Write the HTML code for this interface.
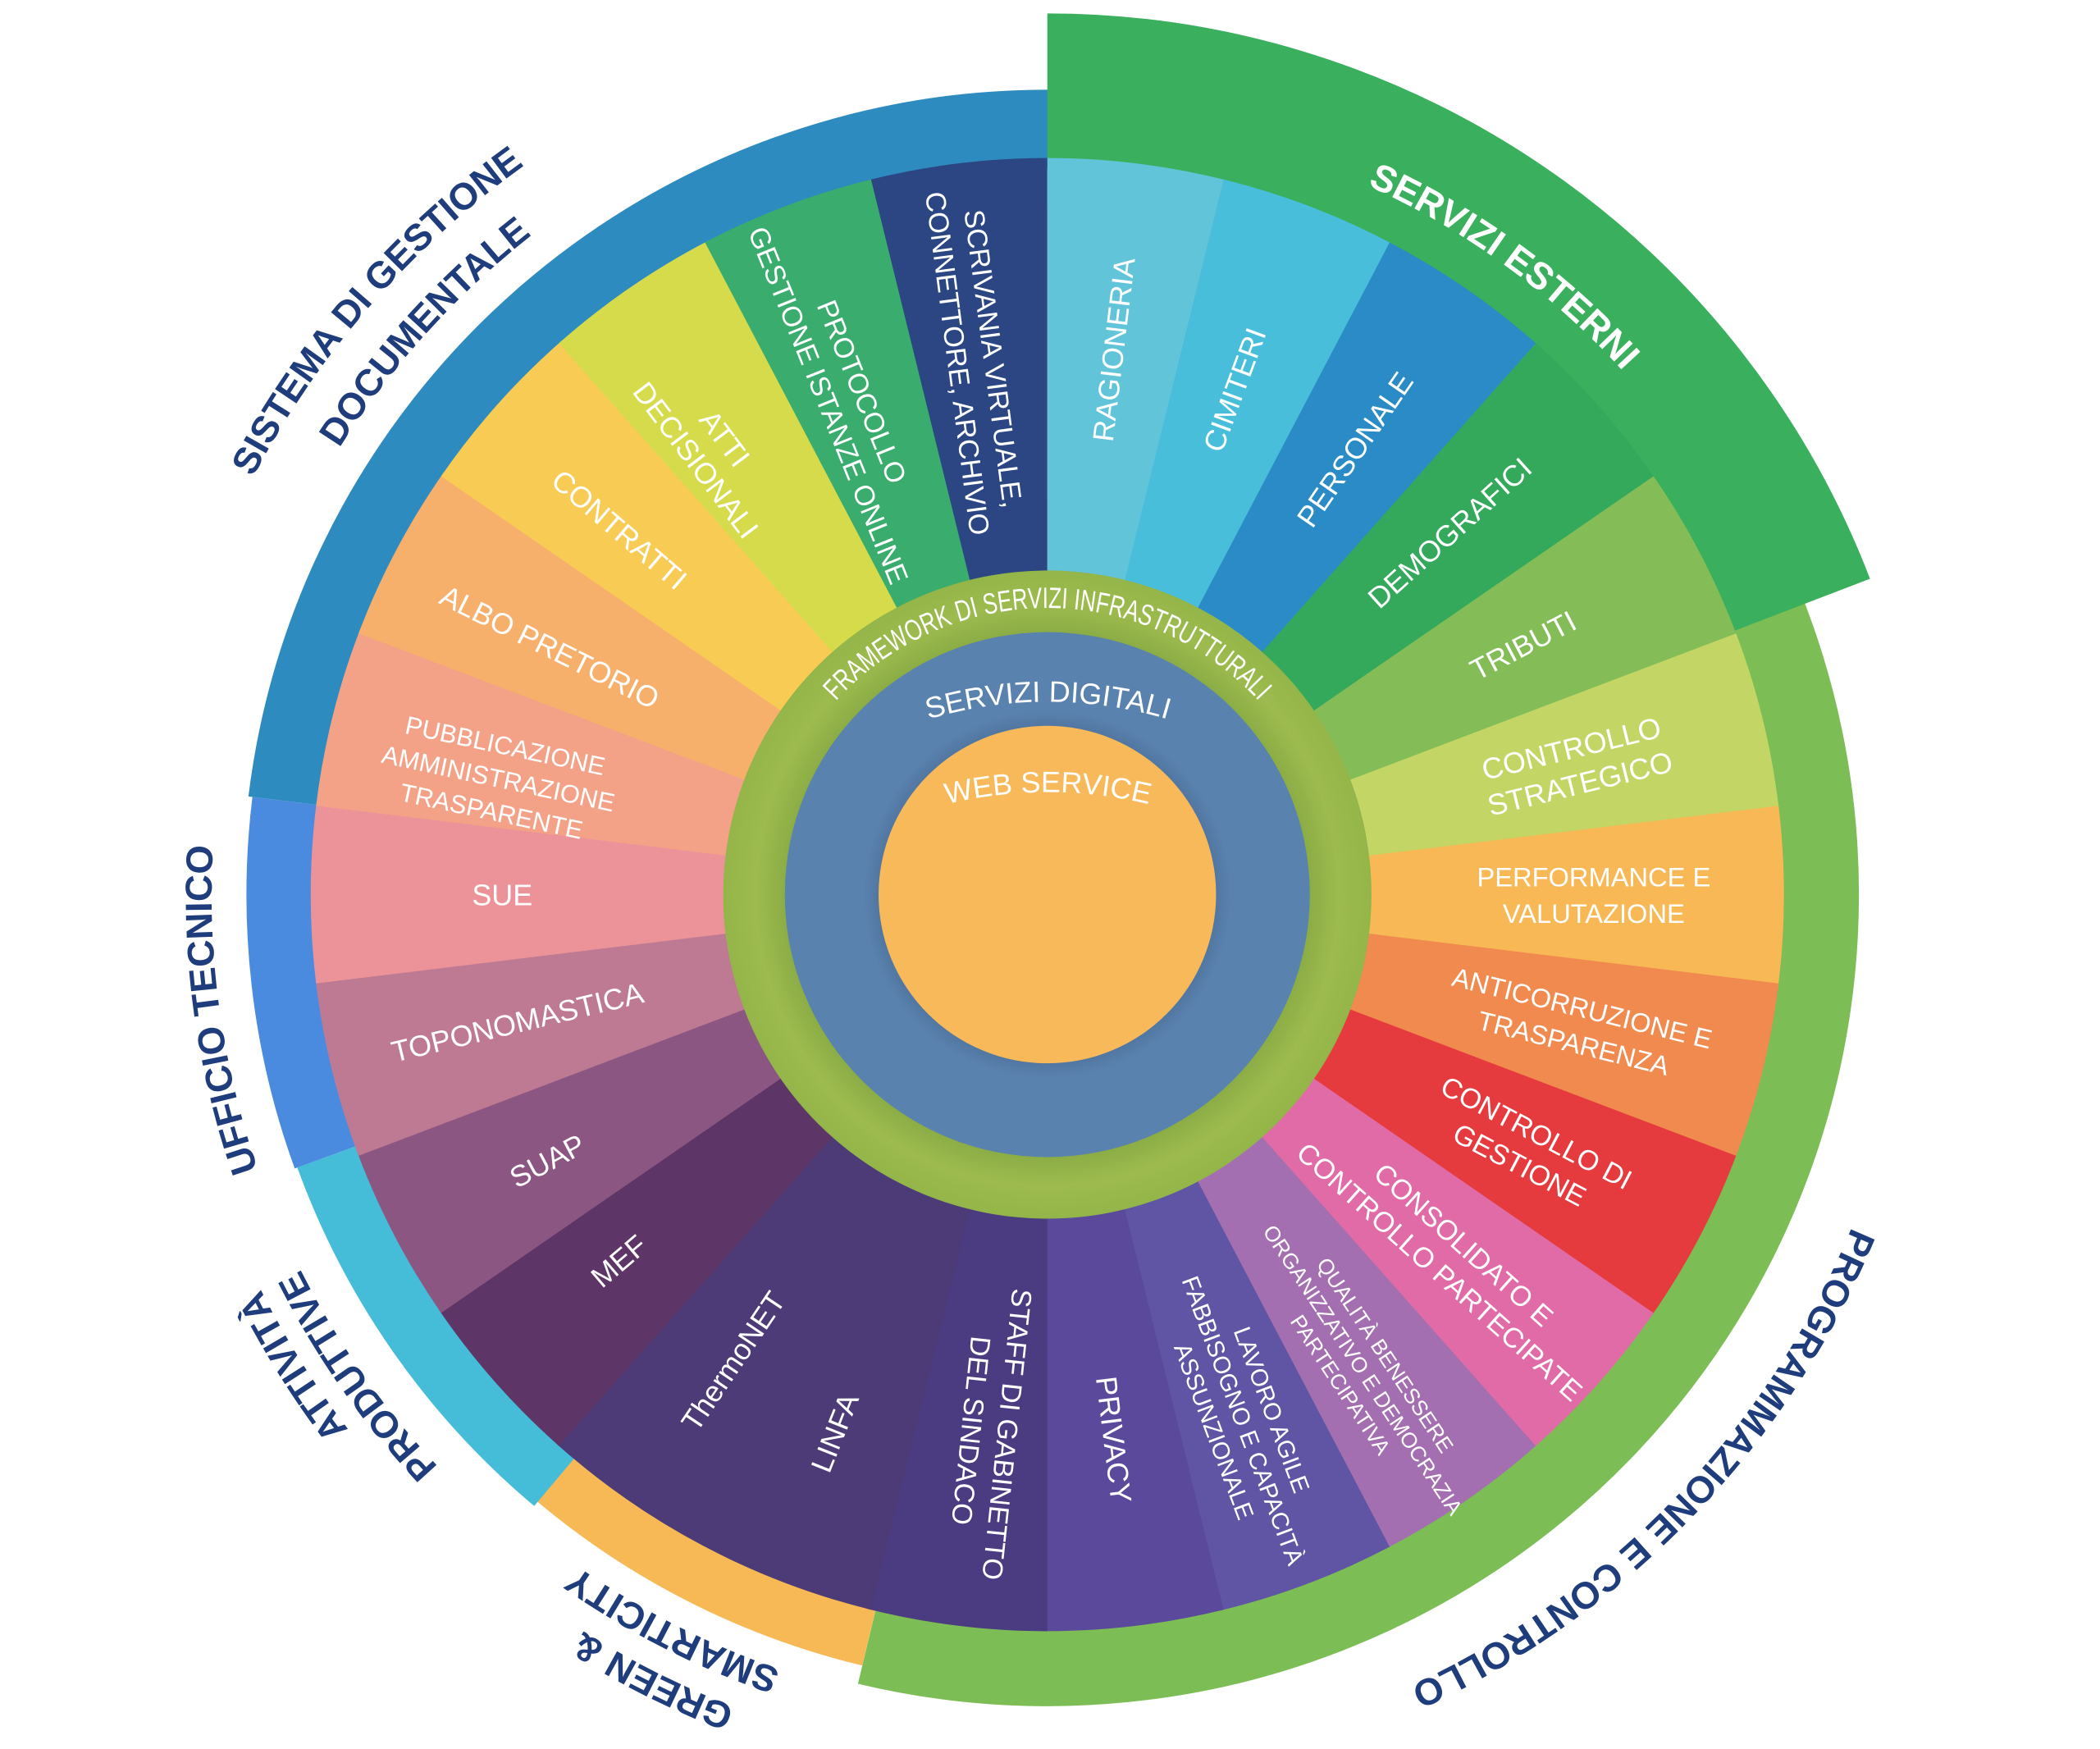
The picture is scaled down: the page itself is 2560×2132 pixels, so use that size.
<!DOCTYPE html>
<html><head><meta charset="utf-8"><style>
html,body{margin:0;padding:0;background:#fff;overflow:hidden;}
svg{display:block;}
text{font-family:"Liberation Sans",sans-serif;}
.s{fill:#fff;font-size:22px;}
.b{fill:#1f3d7c;font-size:28px;font-weight:bold;}
</style></head><body>
<svg width="2560" height="2132" viewBox="0 0 1568 1306" preserveAspectRatio="none" xmlns="http://www.w3.org/2000/svg">
<defs>
<path id="pSE" d="M782,87 A581,581 0 1 1 782,1249 A581,581 0 1 1 782,87"/>
<path id="pS1" d="M782,1338 A670,670 0 1 1 782,-2 A670,670 0 1 1 782,1338"/>
<path id="pS2" d="M782,1293 A625,625 0 1 1 782,43 A625,625 0 1 1 782,1293"/>
<path id="pUT" d="M782,1292 A624,624 0 1 1 782,44 A624,624 0 1 1 782,1292"/>
<path id="pA1" d="M782,1325 A657,657 0 1 1 782,11 A657,657 0 1 1 782,1325"/>
<path id="pA2" d="M782,1292 A624,624 0 1 1 782,44 A624,624 0 1 1 782,1292"/>
<path id="pG1" d="M782,1318 A650,650 0 1 1 782,18 A650,650 0 1 1 782,1318"/>
<path id="pG2" d="M782,1280 A612,612 0 1 1 782,56 A612,612 0 1 1 782,1280"/>
<path id="pPC" d="M782,18 A650,650 0 1 1 782,1318 A650,650 0 1 1 782,18"/>
<path id="pFW" d="M782,882 A214,214 0 1 1 782,454 A214,214 0 1 1 782,882"/>
<path id="pSD" d="M690,538 Q782,510 875,538"/>
<path id="pWS" d="M705,601 Q782,582 860,601"/>
<radialGradient id="gG" cx="782" cy="668" r="242" gradientUnits="userSpaceOnUse">
<stop offset="0.78" stop-color="#86a843"/><stop offset="0.9" stop-color="#9dbb4e"/><stop offset="1" stop-color="#94b549"/></radialGradient>
<radialGradient id="gB" cx="782" cy="668" r="196" gradientUnits="userSpaceOnUse">
<stop offset="0.6" stop-color="#4a6e98"/><stop offset="0.7" stop-color="#5a82ae"/><stop offset="1" stop-color="#5a82ae"/></radialGradient>
</defs>
<g fill="none">
<circle cx="782" cy="668" r="575" stroke="#7dbd55" stroke-width="62" pathLength="360" stroke-dasharray="128.5 360" transform="rotate(-25 782 668)"/>
<circle cx="782" cy="668" r="568" stroke="#f6b955" stroke-width="48" pathLength="360" stroke-dasharray="27 360" transform="rotate(103.5 782 668)"/>
<circle cx="782" cy="668" r="570" stroke="#45bcd8" stroke-width="52" pathLength="360" stroke-dasharray="30 360" transform="rotate(130 782 668)"/>
<circle cx="782" cy="668" r="571" stroke="#4a8be0" stroke-width="54" pathLength="360" stroke-dasharray="27 360" transform="rotate(160 782 668)"/>
<circle cx="782" cy="668" r="572" stroke="#2e8bc0" stroke-width="58" pathLength="360" stroke-dasharray="83.2 360" transform="rotate(187 782 668)"/>
<circle cx="782" cy="668" r="600" stroke="#3aaf5e" stroke-width="116" pathLength="360" stroke-dasharray="69 360" transform="rotate(-90 782 668)"/>
<g stroke-width="550">
<circle cx="782" cy="668" r="275" stroke="#62c4d9" pathLength="360" stroke-dasharray="14.2 360" transform="rotate(-90 782 668)"/>
<circle cx="782" cy="668" r="275" stroke="#48bedb" pathLength="360" stroke-dasharray="14.2 360" transform="rotate(-76.154 782 668)"/>
<circle cx="782" cy="668" r="275" stroke="#2b8bc6" pathLength="360" stroke-dasharray="14.2 360" transform="rotate(-62.308 782 668)"/>
<circle cx="782" cy="668" r="275" stroke="#34a95c" pathLength="360" stroke-dasharray="14.2 360" transform="rotate(-48.462 782 668)"/>
<circle cx="782" cy="668" r="275" stroke="#84bd58" pathLength="360" stroke-dasharray="14.2 360" transform="rotate(-34.615 782 668)"/>
<circle cx="782" cy="668" r="275" stroke="#c3d665" pathLength="360" stroke-dasharray="14.2 360" transform="rotate(-20.769 782 668)"/>
<circle cx="782" cy="668" r="275" stroke="#f7b855" pathLength="360" stroke-dasharray="14.2 360" transform="rotate(-6.923 782 668)"/>
<circle cx="782" cy="668" r="275" stroke="#f08a4f" pathLength="360" stroke-dasharray="14.2 360" transform="rotate(6.923 782 668)"/>
<circle cx="782" cy="668" r="275" stroke="#e63b3e" pathLength="360" stroke-dasharray="14.2 360" transform="rotate(20.769 782 668)"/>
<circle cx="782" cy="668" r="275" stroke="#e06ba6" pathLength="360" stroke-dasharray="14.2 360" transform="rotate(34.615 782 668)"/>
<circle cx="782" cy="668" r="275" stroke="#a46fb0" pathLength="360" stroke-dasharray="14.2 360" transform="rotate(48.462 782 668)"/>
<circle cx="782" cy="668" r="275" stroke="#5f55a4" pathLength="360" stroke-dasharray="14.2 360" transform="rotate(62.308 782 668)"/>
<circle cx="782" cy="668" r="275" stroke="#5b4a9c" pathLength="360" stroke-dasharray="14.2 360" transform="rotate(76.154 782 668)"/>
<circle cx="782" cy="668" r="275" stroke="#4b3b80" pathLength="360" stroke-dasharray="14.2 360" transform="rotate(90 782 668)"/>
<circle cx="782" cy="668" r="275" stroke="#4c3b76" pathLength="360" stroke-dasharray="28 360" transform="rotate(103.846 782 668)"/>
<circle cx="782" cy="668" r="275" stroke="#5d3566" pathLength="360" stroke-dasharray="14.2 360" transform="rotate(131.538 782 668)"/>
<circle cx="782" cy="668" r="275" stroke="#8c5683" pathLength="360" stroke-dasharray="14.2 360" transform="rotate(145.385 782 668)"/>
<circle cx="782" cy="668" r="275" stroke="#bf7a93" pathLength="360" stroke-dasharray="14.2 360" transform="rotate(159.231 782 668)"/>
<circle cx="782" cy="668" r="275" stroke="#eb9398" pathLength="360" stroke-dasharray="14.2 360" transform="rotate(173.077 782 668)"/>
<circle cx="782" cy="668" r="275" stroke="#f3a287" pathLength="360" stroke-dasharray="14.2 360" transform="rotate(186.923 782 668)"/>
<circle cx="782" cy="668" r="275" stroke="#f6b06c" pathLength="360" stroke-dasharray="14.2 360" transform="rotate(200.769 782 668)"/>
<circle cx="782" cy="668" r="275" stroke="#f8cb55" pathLength="360" stroke-dasharray="14.2 360" transform="rotate(214.615 782 668)"/>
<circle cx="782" cy="668" r="275" stroke="#d6db4b" pathLength="360" stroke-dasharray="14.2 360" transform="rotate(228.462 782 668)"/>
<circle cx="782" cy="668" r="275" stroke="#3aac6e" pathLength="360" stroke-dasharray="14.2 360" transform="rotate(242.308 782 668)"/>
<circle cx="782" cy="668" r="275" stroke="#2b4683" pathLength="360" stroke-dasharray="13.85 360" transform="rotate(256.154 782 668)"/>
</g>
</g>
<circle cx="782" cy="668" r="242" fill="url(#gG)"/>
<circle cx="782" cy="668" r="196" fill="url(#gB)"/>
<circle cx="782" cy="668" r="126" fill="#f7b95a"/>

<g class="s">
<text text-anchor="middle" transform="rotate(6.9 782 668) translate(782 258) rotate(-90)" dy="8">RAGIONERIA</text>
<text text-anchor="middle" transform="rotate(20.3 782 668) translate(782 266) rotate(-90)" dy="8">CIMITERI</text>
<text text-anchor="middle" transform="rotate(34.6 782 668) translate(782 264) rotate(-90)" dy="8">PERSONALE</text>
<text text-anchor="middle" transform="rotate(48 782 668) translate(782 264) rotate(-90)" dy="8">DEMOGRAFICI</text>
<text text-anchor="middle" transform="rotate(62.3 782 668) translate(782 267) rotate(-90)" dy="8">TRIBUTI</text>
<text text-anchor="middle" transform="rotate(76.2 782 668) translate(782 262) rotate(-90)"><tspan x="0" dy="-5">CONTROLLO</tspan><tspan x="0" dy="27">STRATEGICO</tspan></text>
<text text-anchor="middle" font-size="20" transform="rotate(90 782 668) translate(782 260) rotate(-90)"><tspan x="0" dy="-6">PERFORMANCE E</tspan><tspan x="0" dy="27">VALUTAZIONE</tspan></text>
<text text-anchor="middle" font-size="20" transform="rotate(103.8 782 668) translate(782 260) rotate(-90)"><tspan x="0" dy="-6">ANTICORRUZIONE E</tspan><tspan x="0" dy="27">TRASPARENZA</tspan></text>
<text text-anchor="middle" font-size="21" transform="rotate(117.7 782 668) translate(782 262) rotate(-90)"><tspan x="0" dy="-5">CONTROLLO DI</tspan><tspan x="0" dy="27">GESTIONE</tspan></text>
<text text-anchor="middle" font-size="21" transform="rotate(131.8 782 668) translate(782 262) rotate(-90)"><tspan x="0" dy="-5">CONSOLIDATO E</tspan><tspan x="0" dy="27">CONTROLLO PARTECIPATE</tspan></text>
<text text-anchor="middle" font-size="16" transform="rotate(146.5 782 668) translate(782 242) rotate(-90)"><tspan x="0" dy="-15">QUALITÀ BENESSERE</tspan><tspan x="0" dy="20">ORGANIZZATIVO E DEMOCRAZIA</tspan><tspan x="0" dy="20">PARTECIPATIVA</tspan></text>
<text text-anchor="middle" font-size="18" transform="rotate(159.5 782 668) translate(782 249) rotate(-90)"><tspan x="0" dy="-16">LAVORO AGILE</tspan><tspan x="0" dy="23">FABBISOGNO E CAPACITÀ</tspan><tspan x="0" dy="23">ASSUNZIONALE</tspan></text>
<text text-anchor="middle" transform="rotate(173 782 668) translate(782 258) rotate(-90)" dy="8">PRIVACY</text>
<text text-anchor="middle" font-size="21" transform="rotate(186 782 668) translate(782 264) rotate(-90)"><tspan x="0" dy="-5">STAFF DI GABINETTO</tspan><tspan x="0" dy="27">DEL SINDACO</tspan></text>
<text text-anchor="middle" transform="rotate(201.6 782 668) translate(782 236) rotate(90)" dy="8">LINFA</text>
<text text-anchor="middle" transform="rotate(214 782 668) translate(782 248) rotate(90)" dy="8">ThermoNET</text>
<text text-anchor="middle" transform="rotate(229.5 782 668) translate(782 247) rotate(90)" dy="8">MEF</text>
<text text-anchor="middle" transform="rotate(242 782 668) translate(782 245) rotate(90)" dy="8">SUAP</text>
<text text-anchor="middle" transform="rotate(256.5 782 668) translate(782 261) rotate(90)" dy="8">TOPONOMASTICA</text>
<text text-anchor="middle" transform="rotate(270 782 668) translate(782 261) rotate(90)" dy="8">SUE</text>
<text text-anchor="middle" font-size="19" transform="rotate(282 782 668) translate(782 249) rotate(90)"><tspan x="0" dy="-18">PUBBLICAZIONE</tspan><tspan x="0" dy="25">AMMINISTRAZIONE</tspan><tspan x="0" dy="25">TRASPARENTE</tspan></text>
<text text-anchor="middle" transform="rotate(296.5 782 668) translate(782 253) rotate(90)" dy="8">ALBO PRETORIO</text>
<text text-anchor="middle" transform="rotate(310.5 782 668) translate(782 248) rotate(90)" dy="8">CONTRATTI</text>
<text text-anchor="middle" transform="rotate(323 782 668) translate(782 251) rotate(90)"><tspan x="0" dy="-5">ATTI</tspan><tspan x="0" dy="27">DECISIONALI</tspan></text>
<text text-anchor="middle" font-size="21" transform="rotate(338 782 668) translate(782 268) rotate(90)"><tspan x="0" dy="-5">PROTOCOLLO</tspan><tspan x="0" dy="27">GESTIONE ISTANZE ONLINE</tspan></text>
<text text-anchor="middle" font-size="21" transform="rotate(352.5 782 668) translate(782 266) rotate(90)"><tspan x="0" dy="-5">SCRIVANIA VIRTUALE,</tspan><tspan x="0" dy="27">CONNETTORE, ARCHIVIO</tspan></text>
</g>

<text class="s" font-size="15"><textPath href="#pFW" startOffset="50%" text-anchor="middle" textLength="355" lengthAdjust="spacingAndGlyphs">FRAMEWORK  DI SERVIZI INFRASTRUTTURALI</textPath></text>
<text class="s"><textPath href="#pSD" startOffset="50%" text-anchor="middle">SERVIZI DIGITALI</textPath></text>
<text class="s"><textPath href="#pWS" startOffset="50%" text-anchor="middle">WEB SERVICE</textPath></text>

<text fill="#fff" font-size="28" font-weight="bold" font-family="Liberation Sans, sans-serif"><textPath href="#pSE" startOffset="10%" text-anchor="middle">SERVIZI ESTERNI</textPath></text>
<text class="b"><textPath href="#pS1" startOffset="36.4%" text-anchor="middle">SISTEMA DI GESTIONE</textPath></text>
<text class="b"><textPath href="#pS2" startOffset="36.7%" text-anchor="middle">DOCUMENTALE</textPath></text>
<text class="b"><textPath href="#pUT" startOffset="22.8%" text-anchor="middle">UFFICIO TECNICO</textPath></text>
<text class="b"><textPath href="#pA1" startOffset="16.1%" text-anchor="middle">ATTIVITÀ</textPath></text>
<text class="b"><textPath href="#pA2" startOffset="15.3%" text-anchor="middle">PRODUTTIVE</textPath></text>
<text class="b"><textPath href="#pG1" startOffset="7.4%" text-anchor="middle">GREEN &amp;</textPath></text>
<text class="b"><textPath href="#pG2" startOffset="7.5%" text-anchor="middle">SMARTICITY</textPath></text>
<text class="b"><textPath href="#pPC" startOffset="37.2%" text-anchor="middle">PROGRAMMAZIONE E CONTROLLO</textPath></text>
</svg>
</body></html>
